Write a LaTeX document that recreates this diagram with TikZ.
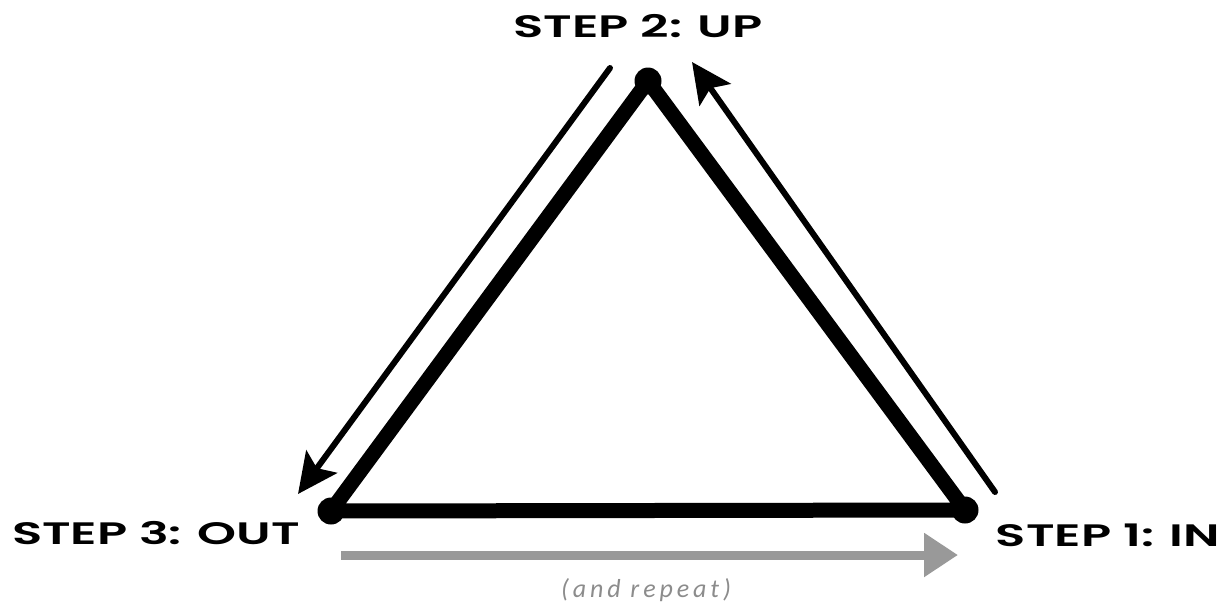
\documentclass[tikz,border=0pt]{standalone}
\usepackage{fontspec}
\newfontfamily\stepfont{Poppins SemiBold}
\newfontfamily\notefont{Carlito}
\usetikzlibrary{arrows.meta}
\tikzset{
  px/.style={x=1pt, y=-1pt},
  t edge/.style={line width=15pt, line join=round, line cap=round},
  t dot/.style={circle, fill=black, inner sep=0pt, minimum size=27pt},
  t arr/.style={line width=6pt, line cap=round, -{Stealth[length=40pt, width=38pt, inset=8pt]}},
  t back/.style={line width=9pt, draw=black!40, -{Triangle[length=34pt, width=42pt]}},
  t step/.style={font=\stepfont\fontsize{31}{31}\selectfont, inner sep=0pt},
  t note/.style={font=\notefont\itshape\addfontfeatures{LetterSpace=15}\fontsize{26}{26}\selectfont, text=black!45, inner sep=0pt},
}
\newcommand\wide[1]{\scalebox{1.6}[1]{#1}}
\begin{document}
\begin{tikzpicture}[px]
\useasboundingbox (0,0) rectangle (1226,606);
% corners of the triangle
\node[t dot] (up) at (648,81) {};
\node[t dot] (out) at (331,511) {};
\node[t dot] (in) at (965,510) {};
\draw[t edge] (up.center) -- (out.center) -- (in.center) -- cycle;
% moving arrows
\coordinate (r0) at (995,492);
\coordinate (r1) at (692,62);
\coordinate (l0) at (610,68);
\coordinate (l1) at (298,494);
\coordinate (b0) at (341,555);
\coordinate (b1) at (958,555);
\draw[t arr] (r0) -- (r1);
\draw[t arr] (l0) -- (l1);
\draw[t back] (b0) -- (b1);
% labels
\node[t step] (s2) at (638,26) {\wide{STEP 2: UP}};
\node[t step] (s3) at (156,533) {\wide{STEP 3: OUT}};
\node[t step] (s1) at (1108,535) {\wide{STEP 1: IN}};
\node[t note] (rep) at (646,590) {(and repeat)};
\end{tikzpicture}
\end{document}
